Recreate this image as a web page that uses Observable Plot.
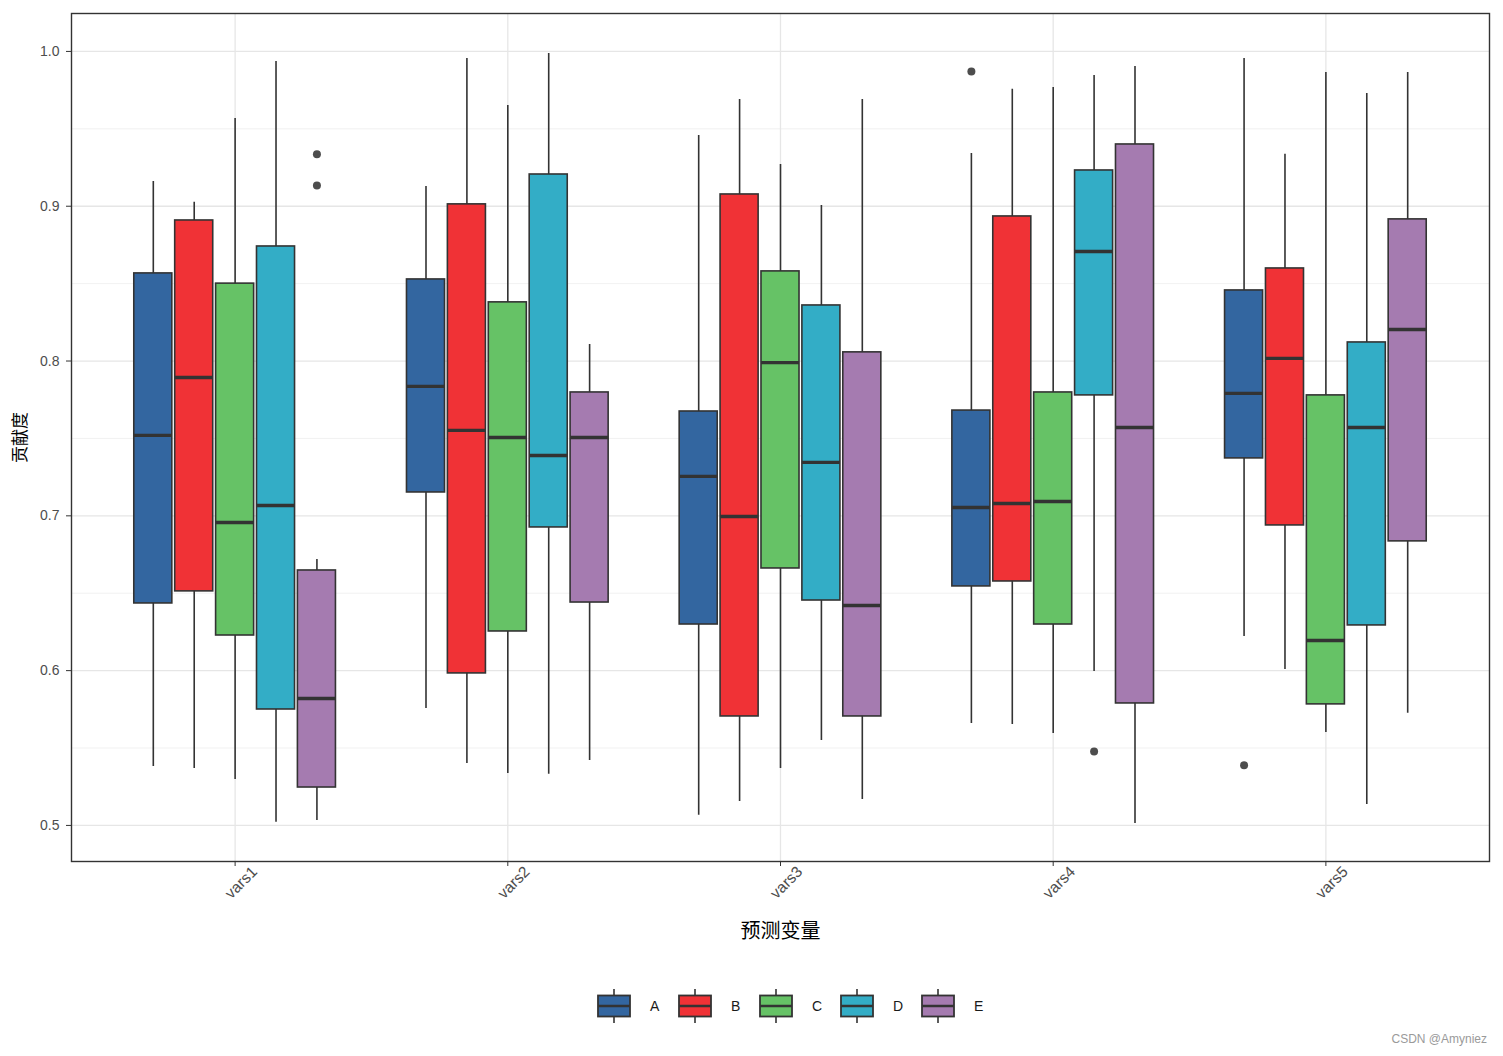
<!DOCTYPE html>
<html>
<head>
<meta charset="utf-8">
<script src="https://cdn.jsdelivr.net/npm/d3@7"></script>
<script src="https://cdn.jsdelivr.net/npm/@observablehq/plot@0.6"></script>
<style>
  body { margin: 0; background: #fff; }
  #wrap { position: relative; width: 1503px; height: 1056px; background: #fff;
          font-family: "Liberation Sans", Arial, "Noto Sans CJK SC", sans-serif; }
  #legend { position: absolute; left: 597px; top: 989px; display: flex; align-items: center; }
  #legend .item { display: flex; align-items: center; width: 81px; }
  #legend .lab { margin-left: 19px; font-size: 14px; color: #1a1a1a; }
  #caption { position: absolute; right: 16px; top: 1032px; font-size: 12px; color: #9a9a9a; }
</style>
</head>
<body>
<div id="wrap">
  <div id="chart"></div>
  <div id="legend"></div>
  <div id="caption">CSDN @Amyniez</div>
</div>
<script>
// ---- data (rows: vars1..vars5, columns: A..E) ----
const vars = ["vars1", "vars2", "vars3", "vars4", "vars5"];
const groups = ["A", "B", "C", "D", "E"];
const colors = ["#3366A0", "#F03236", "#66C266", "#33ADC6", "#A57BB0"];

const whiskerHigh = [
  [0.916, 0.9025, 0.9567, 0.9935, 0.6718],
  [0.9128, 0.9955, 0.9651, 0.9987, 0.8107],
  [0.9457, 0.969, 0.927, 0.9005, 0.969],
  [0.9341, 0.9755, 0.9767, 0.9845, 0.9903],
  [0.9955, 0.9335, 0.9864, 0.9729, 0.9864]
];
const upperQuartile = [
  [0.8566, 0.8908, 0.850, 0.874, 0.6647],
  [0.8527, 0.9012, 0.8379, 0.9205, 0.7797],
  [0.7674, 0.9076, 0.8579, 0.8359, 0.8056],
  [0.768, 0.8934, 0.7797, 0.9231, 0.9399],
  [0.8456, 0.8598, 0.7778, 0.812, 0.8915]
];
const median = [
  [0.752, 0.7894, 0.6957, 0.7067, 0.582],
  [0.7836, 0.7552, 0.7506, 0.739, 0.7506],
  [0.7255, 0.6996, 0.799, 0.7345, 0.6421],
  [0.7054, 0.708, 0.7093, 0.8708, 0.7571],
  [0.7791, 0.8017, 0.6195, 0.7571, 0.8204]
];
const lowerQuartile = [
  [0.6434, 0.6512, 0.6227, 0.5749, 0.5245],
  [0.7151, 0.5982, 0.6253, 0.6925, 0.644],
  [0.6298, 0.5704, 0.666, 0.6453, 0.5704],
  [0.6544, 0.6576, 0.6298, 0.7778, 0.5788],
  [0.7371, 0.6938, 0.5782, 0.6292, 0.6835]
];
const whiskerLow = [
  [0.538, 0.5368, 0.5297, 0.502, 0.5032],
  [0.5756, 0.540, 0.5336, 0.533, 0.542],
  [0.5065, 0.5155, 0.5368, 0.5549, 0.5168],
  [0.5659, 0.5652, 0.5594, 0.5995, 0.5013],
  [0.6221, 0.6008, 0.5601, 0.5136, 0.5724]
];
const outlierVar = ["vars1", "vars1", "vars4", "vars4", "vars5"];
const outlierGroup = ["E", "E", "A", "D", "A"];
const outlierValue = [0.9335, 0.9134, 0.9871, 0.5478, 0.5388];

const yTicks = [0.5, 0.6, 0.7, 0.8, 0.9, 1.0];
const yMinorTicks = [0.55, 0.65, 0.75, 0.85, 0.95];
const yLabel = "贡献度";
const xLabel = "预测变量";

// ---- dodge layout (like ggplot position_dodge2) ----
const dodgeWidth = 0.75;                 // share of a category slot used by the 5 boxes
const slot = dodgeWidth / groups.length; // width per group
const halfBox = slot * 0.93 / 2;         // half box width
const pos = (v, g) => vars.indexOf(v) + 1 + (groups.indexOf(g) - (groups.length - 1) / 2) * slot;

const rows = [];
vars.forEach((v, i) => groups.forEach((g, j) => rows.push({
  v, g, x: pos(v, g),
  lo: whiskerLow[i][j], q1: lowerQuartile[i][j], med: median[i][j],
  q3: upperQuartile[i][j], hi: whiskerHigh[i][j]
})));
const outliers = outlierValue.map((y, k) => ({v: outlierVar[k], g: outlierGroup[k], x: pos(outlierVar[k], outlierGroup[k]), y}));
const varPos = vars.map((v, i) => i + 1);

const FONT = '"Liberation Sans", Arial, "Noto Sans CJK SC", sans-serif';
const CJK = '"Noto Sans CJK SC", "Liberation Sans", sans-serif';

const chart = Plot.plot({
  width: 1503,
  height: 960,
  marginTop: 13,
  marginRight: 14,
  marginBottom: 99,
  marginLeft: 71,
  style: {fontFamily: FONT, fontSize: "14px", background: "#fff", overflow: "visible"},
  x: {domain: [0.4, 5.6], axis: null},
  y: {domain: [0.4767, 1.0245], axis: null},
  color: {domain: groups, range: colors},
  marks: [
    Plot.ruleY(yMinorTicks, {stroke: "#EBEBEB", strokeWidth: 0.7}),
    Plot.ruleY(yTicks, {stroke: "#E6E6E6", strokeWidth: 1.3}),
    Plot.ruleX(varPos, {stroke: "#E6E6E6", strokeWidth: 1.3}),
    Plot.ruleX(rows, {x: "x", y1: "lo", y2: "hi", stroke: "#333", strokeWidth: 1.6}),
    Plot.rectY(rows, {x1: d => d.x - halfBox, x2: d => d.x + halfBox, y1: "q1", y2: "q3",
      fill: "g", stroke: "#333", strokeWidth: 1.6}),
    Plot.ruleY(rows, {x1: d => d.x - halfBox, x2: d => d.x + halfBox, y: "med", stroke: "#333", strokeWidth: 3.4}),
    Plot.dot(outliers, {x: "x", y: "y", r: 4, fill: "#4d4d4d", stroke: "none"}),
    Plot.frame({stroke: "#333", strokeWidth: 1.4}),
    Plot.axisY(yTicks, {anchor: "left", tickSize: 5, tickPadding: 7,
      tickFormat: d3.format(".1f"), stroke: "#333", fill: "#4D4D4D", fontSize: 14, label: null}),
    Plot.axisX(varPos, {anchor: "bottom", tickSize: 5, stroke: "#333", fill: "none", label: null}),
    Plot.text(vars, {x: (d, i) => i + 1, text: d => d, frameAnchor: "bottom", dx: 6, dy: 21,
      textAnchor: "middle", lineAnchor: "middle", rotate: -45, fill: "#4D4D4D", fontSize: 15.5}),
    Plot.text([yLabel], {frameAnchor: "left", dx: -51, rotate: -90, textAnchor: "middle", lineAnchor: "middle",
      fontSize: 17, fill: "#000", fontFamily: CJK}),
    Plot.text([xLabel], {frameAnchor: "bottom", dy: 70, textAnchor: "middle", lineAnchor: "middle",
      fontSize: 20, fill: "#000", fontFamily: CJK})
  ]
});
document.getElementById("chart").appendChild(chart);

// ---- legend (mini boxplot keys) ----
const legend = d3.select("#legend");
groups.forEach((g, j) => {
  const item = legend.append("div").attr("class", "item");
  const s = item.append("svg").attr("width", 34).attr("height", 34);
  s.append("line").attr("x1", 17).attr("x2", 17).attr("y1", 0).attr("y2", 34)
    .attr("stroke", "#333").attr("stroke-width", 1.6);
  s.append("rect").attr("x", 1).attr("y", 6.5).attr("width", 32).attr("height", 21)
    .attr("fill", colors[j]).attr("stroke", "#333").attr("stroke-width", 1.8);
  s.append("line").attr("x1", 1).attr("x2", 33).attr("y1", 17).attr("y2", 17)
    .attr("stroke", "#333").attr("stroke-width", 2.5);
  item.append("span").attr("class", "lab").text(g);
});
</script>
</body>
</html>
